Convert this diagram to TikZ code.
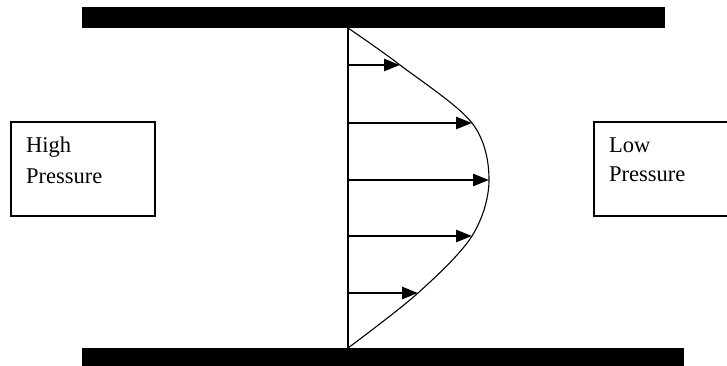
\documentclass[tikz,border=0pt]{standalone}
\usepackage{fontspec}
\setmainfont{Liberation Serif}
\usetikzlibrary{arrows.meta}

\tikzset{
    wall/.style={fill=black},
    pbox/.style={draw, line width=1.2pt, minimum height=94pt, inner sep=0pt},
    plabel/.style={anchor=base west, inner sep=0pt, font=\fontsize{22.5}{28}\selectfont},
    flowarrow/.style={line width=2.6pt, -{Triangle[length=16pt, width=12pt]}},
}

\begin{document}
\begin{tikzpicture}[x=1pt, y=-1pt]
    \useasboundingbox (0,0) rectangle (727,366);
    \clip (0,0) rectangle (727,366);

    % 管壁
    \fill[wall] (82,7) rectangle (665,28);
    \fill[wall] (82,348) rectangle (684,366);

    % 压力框
    \node[pbox, minimum width=144pt] (high) at (83,169) {};
    \node[plabel] (high1) at (26,153) {High};
    \node[plabel] (high2) at (26,183) {Pressure};

    \node[pbox, minimum width=220pt] (low) at (704,169) {};
    \node[plabel] (low1) at (609,153) {Low};
    \node[plabel] (low2) at (609,182) {Pressure};

    % 速度剖面
    \coordinate (wtop) at (348,28);
    \coordinate (wbot) at (348,348);
    \draw[line width=1.1pt] (wtop) -- (wbot);
    \foreach \i/\y/\x in {1/65/400, 2/123/472, 3/180/489, 4/236/472, 5/293/418} {
        \coordinate (s\i) at (348,\y);
        \coordinate (e\i) at (\x,\y);
        \draw[flowarrow] (s\i) -- (e\i);
    }
    \draw[line width=1.1pt] plot[smooth, tension=0.55] coordinates {(wtop) (e1) (e2) (e3) (e4) (e5) (wbot)};
\end{tikzpicture}
\end{document}
